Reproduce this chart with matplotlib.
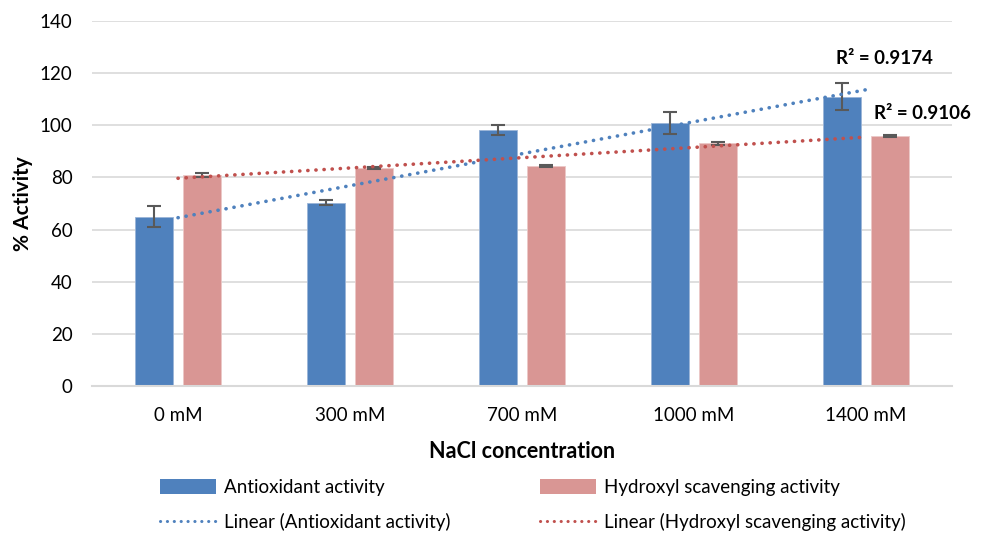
import numpy as np
import matplotlib.pyplot as plt
from matplotlib.lines import Line2D
from matplotlib.patches import Patch

plt.rcParams['font.family'] = ['Lato', 'DejaVu Sans']

categories = ['0 mM', '300 mM', '700 mM', '1000 mM', '1400 mM']
antioxidant = [65.0, 70.3, 98.2, 101.0, 111.0]
antioxidant_err = [4.0, 1.0, 2.0, 4.2, 5.3]
hydroxyl = [80.9, 83.6, 84.4, 93.1, 95.9]
hydroxyl_err = [0.8, 0.3, 0.3, 0.5, 0.3]
r2_labels = ['R² = 0.9174', 'R² = 0.9106']

blue = '#4f81bd'
red = '#d99694'
blue_tr = '#4f81bd'
red_tr = '#c0504d'
dots = (0, (0.05, 2.2))

fig = plt.figure(figsize=(9.82, 5.35), dpi=100)
ax = fig.add_axes([0.0937, 0.2785, 0.8758, 0.6822])

x = np.arange(len(categories))
w = 0.22
off = 0.14

ax.bar(x - off, antioxidant, w, color=blue, edgecolor='#9bb5d8', linewidth=0.6, zorder=2)
ax.bar(x + off, hydroxyl, w, color=red, edgecolor='#ecc8c7', linewidth=0.6, zorder=2)
ax.errorbar(x - off, antioxidant, yerr=antioxidant_err, fmt='none', ecolor='#595959',
            elinewidth=1.5, capsize=5, capthick=1.5, zorder=3)
ax.errorbar(x + off, hydroxyl, yerr=hydroxyl_err, fmt='none', ecolor='#595959',
            elinewidth=1.5, capsize=5, capthick=1.5, zorder=3)

# linear trendlines (least squares on category index)
for vals, col in [(antioxidant, blue_tr), (hydroxyl, red_tr)]:
    k, b = np.polyfit(x, vals, 1)
    ax.plot(x, k * x + b, color=col, linestyle=dots, linewidth=2.6,
            dash_capstyle='round', zorder=4)

ax.text(4.39, 125.5, r2_labels[0], fontsize=13.5, fontweight='bold', ha='right', va='center')
ax.text(4.61, 104.5, r2_labels[1], fontsize=13.5, fontweight='bold', ha='right', va='center')

ax.set_xlim(-0.5, 4.5)
ax.set_ylim(0, 140)
ax.set_yticks(np.arange(0, 141, 20))
ax.set_xticks(x)
ax.set_xticklabels(categories)
ax.tick_params(length=0, labelsize=13.5, colors='#000000')
ax.tick_params(axis='x', pad=15)
ax.tick_params(axis='y', pad=14)
ax.grid(axis='y', color='#d9d9d9', linewidth=1.2, zorder=0)
ax.set_axisbelow(True)
for s in ['top', 'right', 'left']:
    ax.spines[s].set_visible(False)
ax.spines['bottom'].set_color('#d9d9d9')
ax.spines['bottom'].set_linewidth(1.5)

ax.set_ylabel('% Activity', fontsize=15, fontweight='bold', labelpad=5)
ax.set_xlabel('NaCl concentration', fontsize=15.5, fontweight='bold', labelpad=12)

col1 = [
    Patch(facecolor=blue, label='Antioxidant activity'),
    Line2D([], [], color=blue_tr, linestyle=dots, linewidth=2.2, dash_capstyle='round',
           label='Linear (Antioxidant activity)'),
]
col2 = [
    Patch(facecolor=red, label='Hydroxyl scavenging activity'),
    Line2D([], [], color=red_tr, linestyle=dots, linewidth=2.2, dash_capstyle='round',
           label='Linear (Hydroxyl scavenging activity)'),
]
for hs, xpos in [(col1, 160 / 982), (col2, 540 / 982)]:
    leg = fig.legend(handles=hs, loc='upper left', bbox_to_anchor=(xpos, 1 - 479 / 535),
                     frameon=False, fontsize=13.5, handlelength=3.0, handleheight=0.8,
                     labelspacing=0.9, handletextpad=0.4, borderaxespad=0, borderpad=0)

fig.savefig('out.png', dpi=100)
